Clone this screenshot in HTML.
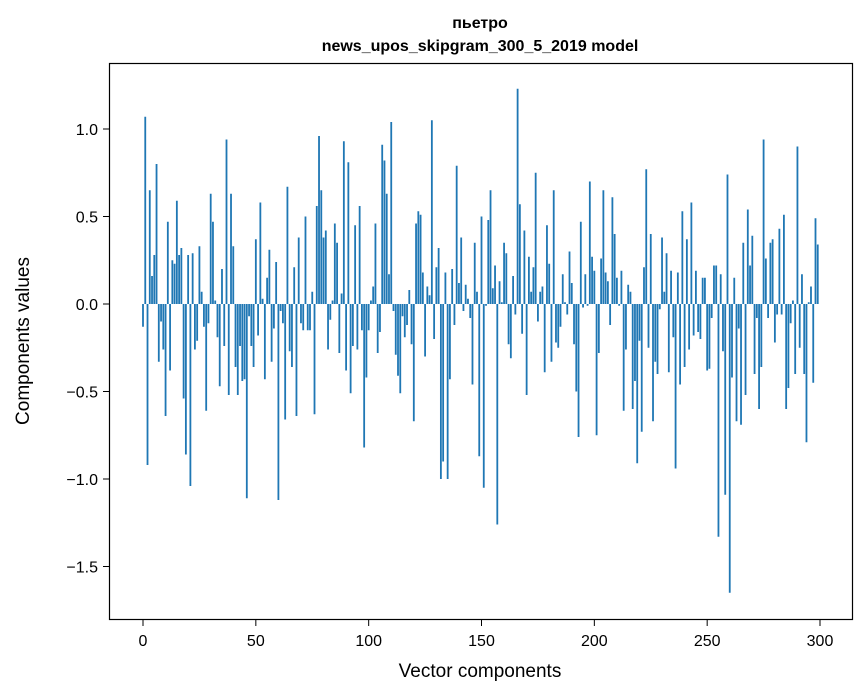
<!DOCTYPE html>
<html><head><meta charset="utf-8"><style>
html,body{margin:0;padding:0;background:#fff;}
svg{display:block;font-family:"Liberation Sans","DejaVu Sans",sans-serif;}
</style></head><body>
<svg id="chart" width="867" height="696" viewBox="0 0 867 696">
<text x="480" y="28" text-anchor="middle" font-size="16" font-weight="bold">пьетро</text>
<text x="480" y="51" text-anchor="middle" font-size="16" font-weight="bold">news_upos_skipgram_300_5_2019 model</text>
<g id="bars"></g>
<rect x="109.5" y="63.5" width="743" height="556" fill="none" stroke="#000" stroke-width="1.2"/>
<g id="xticks"></g>
<g id="yticks"></g>
<text x="480" y="677" text-anchor="middle" font-size="19">Vector components</text>
<text transform="translate(29,341) rotate(-90)" text-anchor="middle" font-size="19">Components values</text>
</svg>
<script>
const values = [-0.13,1.07,-0.92,0.65,0.16,0.28,0.80,-0.33,-0.10,-0.26,-0.64,0.47,-0.38,0.25,0.23,0.59,0.28,0.32,-0.54,-0.86,
0.28,-1.04,0.29,-0.26,-0.21,0.33,0.07,-0.13,-0.61,-0.11,0.63,0.47,0.02,-0.19,-0.47,0.20,-0.24,0.94,-0.52,0.63,
0.33,-0.36,-0.52,-0.24,-0.44,-0.43,-1.11,-0.07,-0.24,-0.36,0.37,-0.18,0.58,0.03,-0.43,0.15,0.31,-0.33,-0.14,0.24,
-1.12,-0.04,-0.11,-0.66,0.67,-0.27,-0.36,0.21,-0.64,0.38,-0.11,-0.15,0.50,-0.15,-0.15,0.07,-0.63,0.56,0.96,0.65,
0.38,0.42,-0.26,-0.09,0.02,0.46,0.35,-0.28,0.06,0.93,-0.38,0.81,-0.51,-0.24,0.45,-0.26,0.56,-0.15,-0.82,-0.42,
-0.15,0.02,0.10,0.46,-0.28,-0.16,0.91,0.82,0.63,0.17,1.04,-0.04,-0.29,-0.41,-0.51,-0.07,-0.19,-0.12,0.08,-0.23,
-0.67,0.46,0.53,0.51,0.18,-0.30,0.10,0.05,1.05,-0.20,0.21,0.32,-1.00,-0.90,0.18,-1.00,-0.43,0.20,-0.12,0.79,
0.12,0.38,-0.04,0.11,0.03,-0.08,-0.46,0.35,0.07,-0.87,0.50,-1.05,-0.01,0.48,0.65,0.09,0.22,-1.26,0.13,0.01,
0.35,0.29,-0.23,-0.31,0.16,-0.06,1.23,0.57,-0.17,0.42,-0.52,0.27,0.07,0.21,0.75,-0.10,0.07,0.10,-0.39,0.45,
0.23,-0.33,0.65,-0.22,-0.25,-0.13,0.17,0.01,-0.06,0.30,0.12,-0.23,-0.50,-0.76,0.47,-0.02,0.17,-0.01,0.70,0.27,
0.19,-0.75,-0.28,0.26,0.65,0.18,0.13,-0.12,0.61,0.40,0.15,-0.01,0.19,-0.61,-0.26,0.11,0.07,-0.60,-0.44,-0.91,
-0.21,-0.73,0.21,0.77,-0.25,0.40,-0.67,-0.33,-0.40,-0.03,0.38,0.07,0.29,-0.39,0.19,-0.19,-0.94,0.18,-0.46,0.53,
-0.36,0.37,-0.26,0.58,-0.18,0.19,-0.16,-0.20,0.15,0.15,-0.38,-0.37,-0.08,0.22,0.22,-1.33,0.17,-0.27,-1.09,0.74,
-1.65,-0.42,0.15,-0.67,-0.14,-0.69,0.35,-0.52,0.54,0.22,0.39,-0.40,-0.08,-0.60,-0.36,0.94,0.26,-0.08,0.35,0.37,
-0.22,-0.06,0.43,-0.06,0.51,-0.60,-0.48,-0.11,0.02,-0.40,0.90,-0.25,0.17,-0.40,-0.79,0.01,0.10,-0.45,0.49,0.34];
const xTickValues = [0,50,100,150,200,250,300];
const yTickValues = [1.0,0.5,0.0,-0.5,-1.0,-1.5];
const yTickLabels = ["1.0","0.5","0.0","\u22120.5","\u22121.0","\u22121.5"];

const NS="http://www.w3.org/2000/svg";
function xs(v){return 143+v*2.2567;}
function ys(v){return 304-v*175;}
const bars=document.getElementById('bars');
values.forEach((v,i)=>{
  const r=document.createElementNS(NS,'rect');
  const y0=ys(0), y1=ys(v);
  r.setAttribute('x',xs(i-0.4));
  r.setAttribute('width',0.8*2.2567);
  r.setAttribute('y',Math.min(y0,y1));
  r.setAttribute('height',Math.abs(y1-y0));
  r.setAttribute('fill','#1f77b4');
  
  
  bars.appendChild(r);
});
const xt=document.getElementById('xticks');
xTickValues.forEach(v=>{
  const l=document.createElementNS(NS,'line');
  l.setAttribute('x1',xs(v));l.setAttribute('x2',xs(v));
  l.setAttribute('y1',620);l.setAttribute('y2',626);
  l.setAttribute('stroke','#000');
  
  
  xt.appendChild(l);
  const t=document.createElementNS(NS,'text');
  t.setAttribute('x',xs(v));t.setAttribute('y',646);
  t.setAttribute('text-anchor','middle');t.setAttribute('font-size','16');
  t.textContent=v;
  
  
  xt.appendChild(t);
});
const yt=document.getElementById('yticks');
yTickValues.forEach((v,k)=>{
  const l=document.createElementNS(NS,'line');
  l.setAttribute('x1',103);l.setAttribute('x2',109);
  l.setAttribute('y1',ys(v));l.setAttribute('y2',ys(v));
  l.setAttribute('stroke','#000');
  
  
  yt.appendChild(l);
  const t=document.createElementNS(NS,'text');
  t.setAttribute('x',98);t.setAttribute('y',ys(v)+6);
  t.setAttribute('text-anchor','end');t.setAttribute('font-size','16');
  t.textContent=yTickLabels[k];
  
  
  yt.appendChild(t);
});
</script>
</body></html>
